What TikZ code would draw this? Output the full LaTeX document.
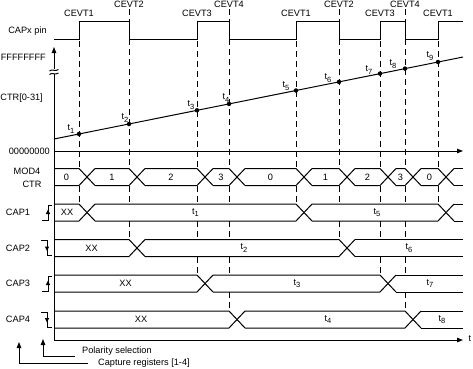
\documentclass[tikz,border=0pt]{standalone}
\usepackage{fontspec}
\setmainfont{Liberation Sans}
\usetikzlibrary{arrows.meta}
\newcommand\tsub[1]{t\raisebox{-2.2pt}{\fontsize{7.5}{8}\selectfont #1}}
\newcommand\evl[3]{%
  \draw[evline] (#1,#2) -- (#1,168.5);
  \draw[evline] (#1,185.5) -- (#1,204);
  \ifnum#3>1 \draw[evline] (#1,221) -- (#1,239.5);\fi
  \ifnum#3>2 \draw[evline] (#1,256.5) -- (#1,275);\fi
  \ifnum#3>3 \draw[evline] (#1,292) -- (#1,311);\fi}
\newcommand\busrow[3]{%
  \gdef\bprev{54}%
  \foreach \e in {#3}{%
    \draw[sig] (\bprev,#1) -- (\e,#1) -- (\e+16,#2);
    \draw[sig] (\bprev,#2) -- (\e,#2) -- (\e+16,#1);
    \pgfmathsetmacro\tmpx{\e+16}\xdef\bprev{\tmpx}}%
  \draw[sig] (\bprev,#1) -- (463,#1);
  \draw[sig] (\bprev,#2) -- (463,#2);}
\newcommand\risesym[1]{%
  \draw[sig] (42,#1+7.5) -- (48,#1+7.5) -- (48,#1-7.5) -- (52,#1-7.5);
  \fill (48,#1-3) -- (45.8,#1+1.5) -- (50.2,#1+1.5) -- cycle;}
\newcommand\fallsym[1]{%
  \draw[sig] (41,#1-7.5) -- (47,#1-7.5) -- (47,#1+7.5) -- (52,#1+7.5);
  \fill (47,#1+3) -- (44.8,#1-1.5) -- (49.2,#1-1.5) -- cycle;}
\begin{document}
\begin{tikzpicture}[x=1pt,y=-1pt,
  every node/.style={font=\fontsize{9.2}{10}\selectfont, inner sep=0pt},
  sig/.style={line width=1pt},
  evline/.style={line width=1pt, dash pattern=on 6pt off 4pt},
  axisarrow/.style={line width=1pt, -{Triangle[length=6pt,width=4.5pt]}},
  tdot/.style={fill, circle, inner sep=0pt, minimum size=4.5pt},
]
\useasboundingbox (0,0) rectangle (473,368);

% event labels
\node (c1) at (79,13) {CEVT1};
\node (c2) at (129,4) {CEVT2};
\node (c3) at (197,13) {CEVT3};
\node (c4) at (229,4) {CEVT4};
\node (c5) at (296,13) {CEVT1};
\node (c6) at (339,4) {CEVT2};
\node (c7) at (380,13) {CEVT3};
\node (c8) at (405,4) {CEVT4};
\node (c9) at (438,13) {CEVT1};

% event lines
\evl{79}{21}{1}
\evl{129}{9}{2}
\evl{197}{21}{3}
\evl{229}{9}{4}
\evl{296}{21}{1}
\evl{339}{9}{2}
\evl{380}{21}{3}
\evl{405}{9}{4}
\evl{438}{21}{1}

% left labels
\node (pinlab) at (27.5,31) {CAPx pin};
\node[anchor=east] (fflab) at (46,57) {FFFFFFFF};
\node[anchor=east] (ctrlab) at (43,98) {CTR[0-31]};
\node[anchor=east] (zerolab) at (50,151) {00000000};
\node (modlab) at (27,171.5) {MOD4};
\node (ctrlab2) at (32,184) {CTR};
\node (cap1lab) at (18,212.5) {CAP1};
\node (cap2lab) at (18,248) {CAP2};
\node (cap3lab) at (18,283.5) {CAP3};
\node (cap4lab) at (18,319.5) {CAP4};

% CAPx pin waveform
\draw[sig] (54,39) -- (79,39) -- (79,21) -- (129,21) -- (129,39) -- (197,39) -- (197,21)
  -- (229,21) -- (229,39) -- (296,39) -- (296,21) -- (339,21) -- (339,39) -- (380,39)
  -- (380,21) -- (405,21) -- (405,39) -- (438,39) -- (438,21) -- (463,21);

% axes
\draw[sig] (54,340) -- (54,74) ;
\draw[axisarrow] (54,69) -- (54,47);
\draw[sig] (49.5,71) .. controls (52,68.5) and (55,72) .. (58.5,69.5);
\draw[sig] (49.5,74.5) .. controls (52,72) and (55,75.5) .. (58.5,73);
\draw[axisarrow] (54,151) -- (463,151);
\draw[axisarrow] (54,340) -- (463,340);
\node (tlab) at (470,339) {t};

% ramp
\coordinate (r0) at (54,139);
\coordinate (r1) at (463,57);
\draw[sig] (r0) -- (r1);
\node[tdot] (d1) at (79,134) {};
\node[tdot] (d2) at (129,124) {};
\node[tdot] (d3) at (197,110.3) {};
\node[tdot] (d4) at (229,103.9) {};
\node[tdot] (d5) at (296,90.5) {};
\node[tdot] (d6) at (339,81.9) {};
\node[tdot] (d7) at (380,73.6) {};
\node[tdot] (d8) at (405,68.6) {};
\node[tdot] (d9) at (438,62) {};
\node (l1) at (71,129) {\tsub{1}};
\node (l2) at (125,118) {\tsub{2}};
\node (l3) at (191,105) {\tsub{3}};
\node (l4) at (226,98) {\tsub{4}};
\node (l5) at (286,86) {\tsub{5}};
\node (l6) at (328,78) {\tsub{6}};
\node (l7) at (369,70) {\tsub{7}};
\node (l8) at (393,64) {\tsub{8}};
\node (l9) at (430,56) {\tsub{9}};

% MOD4 CTR row
\busrow{168.5}{185.5}{79,129,197,229,296,339,380,405,438}
\node (m1) at (66.5,177) {0};
\node (m2) at (112,177) {1};
\node (m3) at (171,177) {2};
\node (m4) at (221,177) {3};
\node (m5) at (270.5,177) {0};
\node (m6) at (325.5,177) {1};
\node (m7) at (367.5,177) {2};
\node (m8) at (400.5,177) {3};
\node (m9) at (429.5,177) {0};

% CAP rows
\busrow{204}{221}{79,296,438}
\node (a1) at (67,212.5) {XX};
\node (a2) at (195.5,212.5) {\tsub{1}};
\node (a3) at (377,212.5) {\tsub{5}};
\busrow{239.5}{256.5}{129,339}
\node (b1) at (91.5,248) {XX};
\node (b2) at (244,248) {\tsub{2}};
\node (b3) at (409,248) {\tsub{6}};
\busrow{275}{292}{197,380}
\node (e1) at (125.5,283.5) {XX};
\node (e2) at (297,283.5) {\tsub{3}};
\node (e3) at (430,283.5) {\tsub{7}};
\busrow{311}{328}{229,405}
\node (f1) at (141,319.5) {XX};
\node (f2) at (328,319.5) {\tsub{4}};
\node (f3) at (442,319.5) {\tsub{8}};

% polarity symbols
\risesym{212.5}
\fallsym{248}
\risesym{283.5}
\fallsym{319.5}

% legend
\coordinate (pc) at (43,356);
\coordinate (pe) at (75,356);
\coordinate (cc) at (19,363);
\coordinate (ce) at (88,363);
\draw[axisarrow] (pe) -- (pc) -- (43,339);
\draw[axisarrow] (ce) -- (cc) -- (19,342);
\node[anchor=base west] (pol) at (82,353) {Polarity selection};
\node[anchor=base west] (capreg) at (98,365) {Capture registers [1-4]};
\end{tikzpicture}
\end{document}
